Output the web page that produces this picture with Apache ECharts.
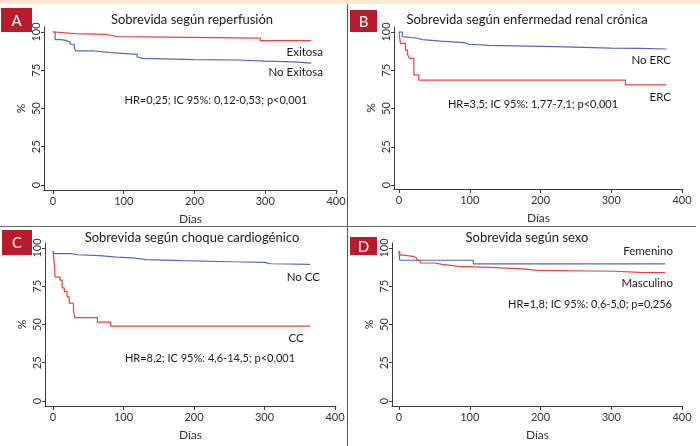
<!DOCTYPE html>
<html><head><meta charset="utf-8">
<script src="https://cdn.jsdelivr.net/npm/echarts@6/dist/echarts.min.js"></script>
<style>html,body{margin:0;padding:0;background:#fff}#c{width:700px;height:446px}</style>
</head><body><div id="c"></div>
<script>
// ---- data ----
const xTicks = [0, 100, 200, 300, 400];
const yTicks = [0, 25, 50, 75, 100];
const xName = 'Días';
const yName = '%';
const panelLetters = ['A', 'B', 'C', 'D'];
const panelTitles = ['Sobrevida según reperfusión', 'Sobrevida según enfermedad renal crónica', 'Sobrevida según choque cardiogénico', 'Sobrevida según sexo'];
const hrTexts = ['HR=0,25; IC 95%: 0,12-0,53; p<0,001', 'HR=3,5; IC 95%: 1,77-7,1; p<0,001', 'HR=8,2; IC 95%: 4,6-14,5; p<0,001', 'HR=1,8; IC 95%: 0,6-5,0; p=0,256'];
const seriesNames = [['Exitosa', 'No Exitosa'], ['ERC', 'No ERC'], ['CC', 'No CC'], ['Masculino', 'Femenino']];

// Panel A
const aRedDays  = [0, 3, 30, 75, 83, 91, 293, 365];
const aRedSurv  = [100, 99, 98.5, 97.7, 97, 96, 94.3, 94.3];
const aBlueDays = [0, 3, 11, 18, 24, 30, 32, 58, 82, 119, 122, 126, 200, 260, 300, 340, 365];
const aBlueSurv = [100, 95, 94.5, 93.5, 92, 90, 87.6, 86.5, 85.4, 83.5, 82.8, 82, 81.7, 81, 80.5, 79.6, 79.6];
// Panel B
const bRedDays  = [0, 2, 9, 12, 14.5, 21, 28, 320, 378];
const bRedSurv  = [100, 92.6, 88.2, 85.5, 82.8, 72, 68.6, 65.4, 65.4];
const bBlueDays = [0, 4.7, 7, 26, 33, 59, 92, 99, 127, 220, 300, 340, 378];
const bBlueSurv = [100, 97, 95.9, 95, 94.1, 93, 92, 91.3, 90.4, 89.5, 89.3, 88.9, 88.7];
// Panel C
const cRedDays  = [0, 1, 2, 3, 10, 13, 16, 20, 23, 29, 31, 63, 82, 365];
const cRedSurv  = [98, 93, 89, 81, 79, 74, 71.5, 68, 64, 59.5, 54.5, 51.5, 49, 49];
const cBlueDays = [0, 2, 25, 35, 66, 90, 113, 132, 183, 253, 300, 309, 365];
const cBlueSurv = [98, 96.3, 95.6, 95, 94.1, 93.5, 92.4, 91.7, 91, 90.6, 89.7, 89.3, 89.3];
// Panel D
const dRedDays  = [0, 2, 6, 20, 25, 30, 50, 61, 63, 84, 129, 176, 195, 305, 340, 376];
const dRedSurv  = [98, 95.4, 94.5, 93.5, 92, 90.2, 89.3, 88.7, 88, 87.4, 86.3, 85.4, 84.8, 84.1, 83.9, 83.7];
const dBlueDays = [0, 1, 105, 376];
const dBlueSurv = [98, 92, 89.6, 89.6];

const redData  = [[aRedDays, aRedSurv], [bRedDays, bRedSurv], [cRedDays, cRedSurv], [dRedDays, dRedSurv]];
const blueData = [[aBlueDays, aBlueSurv], [bBlueDays, bBlueSurv], [cBlueDays, cBlueSurv], [dBlueDays, dBlueSurv]];

// ---- layout ----
const FONT = 'Lato, "Noto Sans", sans-serif';
const RED = '#ee4040', BLUE = '#5565c0', AX = '#3a3a3a';
const grids = [
  {left: 44, top: 27, width: 293, height: 163, xmin: -12.7, xmax: 401.4, ymin: -3.27, ymax: 103.27},
  {left: 394, top: 27, width: 289, height: 162, xmin: -7.07, xmax: 401.4, ymin: -2.6, ymax: 103.27},
  {left: 45, top: 243, width: 291, height: 163, xmin: -11.35, xmax: 401.4, ymin: -3.27, ymax: 103.27},
  {left: 392, top: 243, width: 291, height: 163, xmin: -9.9, xmax: 401.4, ymin: -3.27, ymax: 103.27}
];
const titlePos = [[192, 20], [527, 20], [192, 238], [527, 238]];
const boxPos = [[1, 8, 31, 24], [350, 10, 27, 22], [2, 230, 30, 25], [350, 237, 27, 18]];
const hrPos = [[216, 100], [533, 104], [210, 358], [590, 304]];
const labelPos = [
  [[323, 52, 'right'], [323, 72, 'right']],
  [[671, 97, 'right'], [671, 60, 'right']],
  [[296, 338, 'center'], [320, 277, 'right']],
  [[673, 283, 'right'], [673, 251, 'right']]
];

const toPairs = (d, s) => d.map((v, i) => [v, s[i]]);

const option = {
  animation: false,
  backgroundColor: '#fff',
  grid: grids.map(g => ({left: g.left, top: g.top, width: g.width, height: g.height, containLabel: false})),
  xAxis: grids.map((g, i) => ({
    type: 'value', gridIndex: i, min: g.xmin, max: g.xmax,
    name: xName, nameLocation: 'middle', nameGap: 23,
    nameTextStyle: {fontFamily: FONT, fontSize: 12, color: '#333'},
    axisLine: {show: true, onZero: false, lineStyle: {color: AX, width: 1}},
    axisTick: {show: true, length: 4, customValues: xTicks, lineStyle: {color: AX}},
    axisLabel: {customValues: xTicks, fontFamily: FONT, fontSize: 11, color: '#333', margin: 6},
    splitLine: {show: false}
  })),
  yAxis: grids.map((g, i) => ({
    type: 'value', gridIndex: i, min: g.ymin, max: g.ymax,
    name: yName, nameLocation: 'middle', nameGap: 17, nameRotate: 90,
    nameTextStyle: {fontFamily: FONT, fontSize: 12, color: '#333'},
    axisLine: {show: true, onZero: false, lineStyle: {color: AX, width: 1}},
    axisTick: {show: true, length: 3, customValues: yTicks, lineStyle: {color: AX}},
    axisLabel: {customValues: yTicks, rotate: 90, fontFamily: FONT, fontSize: 11, color: '#333', margin: 2},
    splitLine: {show: false}
  })),
  series: [],
  graphic: []
};

for (let i = 0; i < 4; i++) {
  option.series.push({
    type: 'line', name: seriesNames[i][1], xAxisIndex: i, yAxisIndex: i, step: 'end',
    data: toPairs(blueData[i][0], blueData[i][1]), showSymbol: false,
    lineStyle: {color: BLUE, width: 1.2}, itemStyle: {color: BLUE}
  });
  option.series.push({
    type: 'line', name: seriesNames[i][0], xAxisIndex: i, yAxisIndex: i, step: 'end',
    data: toPairs(redData[i][0], redData[i][1]), showSymbol: false,
    lineStyle: {color: RED, width: 1.2}, itemStyle: {color: RED}
  });
}

const G = option.graphic;
G.push({type: 'rect', shape: {x: 0, y: 0, width: 700, height: 4}, style: {fill: '#fde8d3'}, z: 100});
G.push({type: 'line', shape: {x1: 347.5, y1: 4, x2: 347.5, y2: 446}, style: {stroke: '#555', lineWidth: 1}, z: 100});
G.push({type: 'line', shape: {x1: 0, y1: 226.5, x2: 696, y2: 226.5}, style: {stroke: '#666', lineWidth: 1}, z: 100});
for (let i = 0; i < 4; i++) {
  const b = boxPos[i];
  G.push({type: 'rect', shape: {x: b[0], y: b[1], width: b[2], height: b[3]}, style: {fill: '#b81c2c'}, z: 100});
  G.push({type: 'text', x: b[0] + b[2] / 2, y: b[1] + b[3] / 2 + 1, z: 101,
    style: {text: panelLetters[i], fill: '#fff', font: '15px ' + FONT, align: 'center', verticalAlign: 'middle'}});
  G.push({type: 'text', x: titlePos[i][0], y: titlePos[i][1], z: 101,
    style: {text: panelTitles[i], fill: '#1a1a1a', font: '13px ' + FONT, align: 'center', verticalAlign: 'middle'}});
  G.push({type: 'text', x: hrPos[i][0], y: hrPos[i][1], z: 101,
    style: {text: hrTexts[i], fill: '#1a1a1a', font: '11px ' + FONT, align: 'center', verticalAlign: 'middle'}});
  for (let k = 0; k < 2; k++) {
    const p = labelPos[i][k];
    G.push({type: 'text', x: p[0], y: p[1], z: 101,
      style: {text: seriesNames[i][k], fill: '#1a1a1a', font: '11.5px ' + FONT, align: p[2], verticalAlign: 'middle'}});
  }
}

const chart = echarts.init(document.getElementById('c'), null, {renderer: 'canvas'});
chart.setOption(option);
</script>
</body></html>
